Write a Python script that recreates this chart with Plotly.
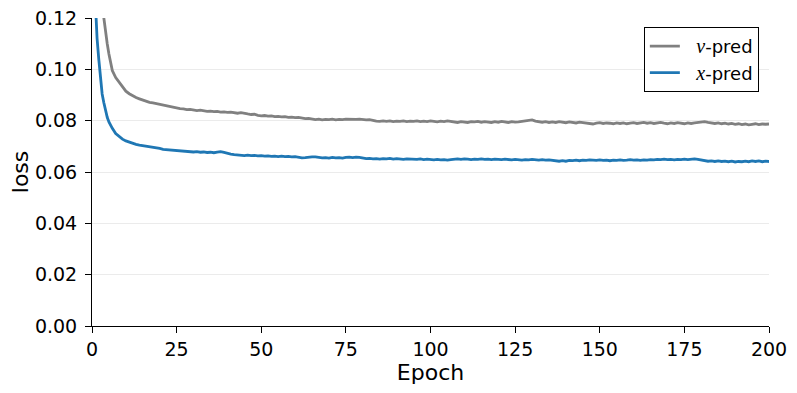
import plotly.graph_objects as go

# epochs: fine steps early on, then one point per epoch
early_epochs = [0.5, 1, 1.5, 2, 2.5, 3, 3.5, 4, 4.5, 5, 5.5]
epochs = early_epochs + list(range(6, 201))

v_pred = [
    0.200, 0.175, 0.158, 0.145, 0.134, 0.125, 0.120, 0.114, 0.110, 0.106, 0.102,
    0.0995, 0.0968, 0.0950, 0.0932, 0.0915, 0.0905, 0.0896, 0.0890, 0.0885, 0.0880,
    0.0876, 0.0871, 0.0869, 0.0866, 0.0864, 0.0860, 0.0857, 0.0854, 0.0852, 0.0850,
    0.0847, 0.0846, 0.0843, 0.0844, 0.0840, 0.0839, 0.0841, 0.0838, 0.0836, 0.0837,
    0.0835, 0.0836, 0.0833, 0.0834, 0.0832, 0.0833, 0.0830, 0.0829, 0.0831, 0.0827,
    0.0826, 0.0824, 0.0825, 0.0821, 0.0819, 0.0820, 0.0818, 0.0819, 0.0816, 0.0817,
    0.0815, 0.0816, 0.0813, 0.0814, 0.0812, 0.0813, 0.0810, 0.0808, 0.0809, 0.0806,
    0.0804, 0.0806, 0.0803, 0.0805, 0.0804, 0.0806, 0.0803, 0.0805, 0.0804, 0.0806,
    0.0805, 0.0806, 0.0805, 0.0806, 0.0804, 0.0803, 0.0804, 0.0800, 0.0798, 0.0797,
    0.0799, 0.0797, 0.0799, 0.0796, 0.0798, 0.0797, 0.0799, 0.0796, 0.0798, 0.0797,
    0.0799, 0.0796, 0.0798, 0.0796, 0.0799, 0.0797, 0.0795, 0.0798, 0.0796, 0.0799,
    0.0797, 0.0795, 0.0793, 0.0796, 0.0794, 0.0793, 0.0796, 0.0795, 0.0797, 0.0794,
    0.0796, 0.0795, 0.0793, 0.0796, 0.0794, 0.0797, 0.0795, 0.0793, 0.0796, 0.0794,
    0.0795, 0.0797, 0.0798, 0.0800, 0.0803, 0.0798, 0.0796, 0.0794, 0.0796, 0.0793,
    0.0795, 0.0793, 0.0796, 0.0794, 0.0792, 0.0795, 0.0793, 0.0791, 0.0794, 0.0792,
    0.0790, 0.0789, 0.0787, 0.0790, 0.0792, 0.0789, 0.0791, 0.0790, 0.0788, 0.0791,
    0.0789, 0.0791, 0.0788, 0.0790, 0.0792, 0.0789, 0.0791, 0.0793, 0.0790, 0.0792,
    0.0789, 0.0791, 0.0793, 0.0790, 0.0788, 0.0791, 0.0789, 0.0792, 0.0790, 0.0788,
    0.0791, 0.0789, 0.0791, 0.0793, 0.0795, 0.0796, 0.0793, 0.0791, 0.0789, 0.0791,
    0.0788, 0.0790, 0.0787, 0.0789, 0.0786, 0.0788, 0.0785, 0.0787, 0.0784, 0.0786,
    0.0788, 0.0785, 0.0787, 0.0786, 0.0787,
]

x_pred = [
    0.140, 0.123, 0.112, 0.104, 0.097, 0.0904, 0.0870, 0.0838, 0.0813, 0.0795, 0.0780,
    0.0770, 0.0750, 0.0737, 0.0728, 0.0721, 0.0716, 0.0711, 0.0708, 0.0705, 0.0703,
    0.0701, 0.0699, 0.0697, 0.0695, 0.0692, 0.0688, 0.0687, 0.0684, 0.0685, 0.0682,
    0.0683, 0.0680, 0.0681, 0.0679, 0.0678, 0.0679, 0.0677, 0.0678, 0.0676, 0.0677,
    0.0675, 0.0677, 0.0679, 0.0676, 0.0672, 0.0670, 0.0668, 0.0667, 0.0665, 0.0664,
    0.0666, 0.0664, 0.0665, 0.0663, 0.0664, 0.0662, 0.0663, 0.0661, 0.0662, 0.0660,
    0.0662, 0.0660, 0.0661, 0.0659, 0.0660, 0.0657, 0.0655, 0.0656, 0.0658, 0.0659,
    0.0659, 0.0657, 0.0655, 0.0656, 0.0654, 0.0657, 0.0655, 0.0656, 0.0654, 0.0657,
    0.0658, 0.0656, 0.0658, 0.0657, 0.0655, 0.0652, 0.0653, 0.0651, 0.0652, 0.0650,
    0.0652, 0.0651, 0.0653, 0.0650, 0.0652, 0.0651, 0.0649, 0.0651, 0.0650, 0.0651,
    0.0649, 0.0651, 0.0648, 0.0650, 0.0648, 0.0647, 0.0649, 0.0647, 0.0648, 0.0646,
    0.0648, 0.0650, 0.0651, 0.0649, 0.0651, 0.0650, 0.0648, 0.0650, 0.0649, 0.0651,
    0.0649, 0.0650, 0.0648, 0.0650, 0.0649, 0.0648, 0.0650, 0.0649, 0.0647, 0.0649,
    0.0648, 0.0646, 0.0648, 0.0647, 0.0649, 0.0647, 0.0646, 0.0648, 0.0646, 0.0647,
    0.0645, 0.0643, 0.0642, 0.0644, 0.0642, 0.0645, 0.0644, 0.0646, 0.0644, 0.0646,
    0.0645, 0.0647, 0.0646, 0.0645, 0.0647, 0.0645, 0.0646, 0.0644, 0.0646, 0.0645,
    0.0647, 0.0645, 0.0646, 0.0648, 0.0646, 0.0647, 0.0645, 0.0647, 0.0646, 0.0648,
    0.0647, 0.0649, 0.0648, 0.0650, 0.0648, 0.0649, 0.0647, 0.0649, 0.0648, 0.0650,
    0.0648, 0.0650, 0.0651, 0.0649, 0.0647, 0.0645, 0.0642, 0.0643, 0.0641, 0.0643,
    0.0641, 0.0642, 0.0640, 0.0642, 0.0639, 0.0641, 0.0640, 0.0642, 0.0640, 0.0643,
    0.0641, 0.0643, 0.0640, 0.0642, 0.0641,
]

x_ticks = [0, 25, 50, 75, 100, 125, 150, 175, 200]
y_ticks = [0.00, 0.02, 0.04, 0.06, 0.08, 0.10, 0.12]

FONT = "DejaVu Sans"
MATH = "\u00a0\u00a0<span style='font-family:Liberation Serif;font-size:20px'><i>{}</i></span>-pred"

fig = go.Figure()

fig.add_trace(
    go.Scatter(
        x=epochs,
        y=v_pred,
        mode="lines",
        line=dict(color="#808080", width=2.8),
        name=MATH.format("v"),
    )
)

fig.add_trace(
    go.Scatter(
        x=epochs,
        y=x_pred,
        mode="lines",
        line=dict(color="#1f77b4", width=2.8),
        name=MATH.format("x"),
    )
)

fig.update_layout(
    width=797,
    height=393,
    margin=dict(l=84, r=36, t=10, b=75),
    paper_bgcolor="white",
    plot_bgcolor="white",
    font=dict(family=FONT, size=19, color="black"),
    showlegend=True,
    legend=dict(
        x=0.985,
        y=0.971,
        xanchor="right",
        yanchor="top",
        bgcolor="white",
        bordercolor="black",
        borderwidth=1,
        font=dict(family=FONT, size=18, color="black"),
        tracegroupgap=0,
    ),
    xaxis=dict(
        range=[0, 200],
        tickvals=x_ticks,
        ticks="outside",
        ticklen=6,
        tickcolor="black",
        ticklabeloverflow="allow",
        showline=True,
        linecolor="black",
        linewidth=1,
        showgrid=False,
        zeroline=False,
        automargin=False,
        title=dict(text="Epoch", font=dict(size=22), standoff=0),
    ),
    yaxis=dict(
        range=[0, 0.12],
        tickvals=y_ticks,
        tickformat=".2f",
        ticks="outside",
        ticklen=6,
        tickcolor="black",
        ticklabelstandoff=4,
        ticklabeloverflow="allow",
        showline=True,
        linecolor="black",
        linewidth=1,
        showgrid=True,
        gridcolor="#ebebeb",
        gridwidth=1,
        zeroline=False,
        automargin=False,
        title=dict(text="loss", font=dict(size=22), standoff=8),
    ),
)

fig.write_html("out.html")
